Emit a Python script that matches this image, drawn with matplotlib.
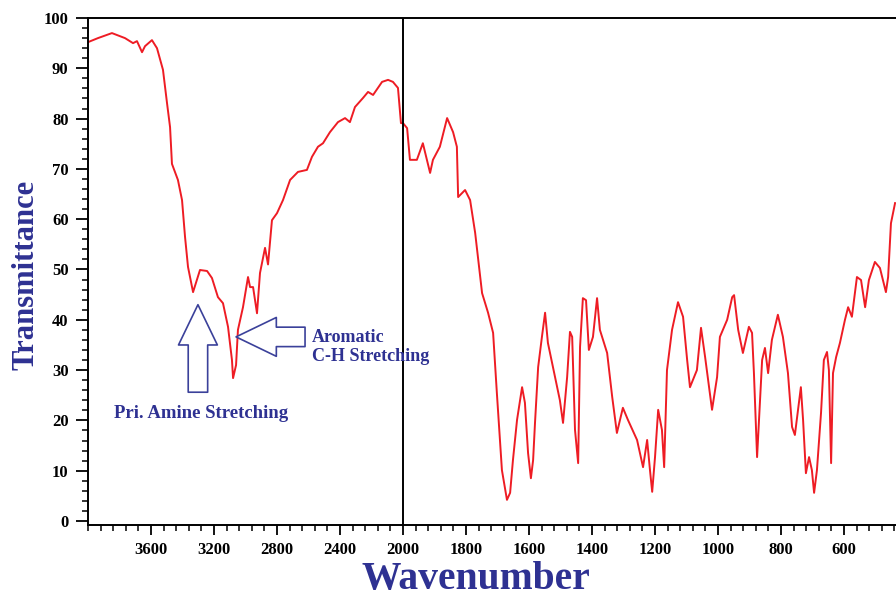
import numpy as np
import matplotlib
matplotlib.use("Agg")
from matplotlib import pyplot as plt
from matplotlib.ticker import FixedLocator

# IR spectrum (wavenumber cm-1, % transmittance)
wavenumber = [4000, 3937, 3848, 3765, 3714, 3689, 3657, 3638, 3594, 3562,
              3524, 3498, 3479, 3467, 3429, 3403, 3384, 3365, 3333, 3289,
              3244, 3213, 3175, 3143, 3111, 3086, 3079, 3060, 3048, 3016,
              2984, 2971, 2952, 2927, 2908, 2876, 2857, 2832, 2800, 2762,
              2717, 2667, 2610, 2578, 2540, 2508, 2464, 2413, 2368, 2337,
              2305, 2254, 2222, 2190, 2133, 2095, 2064, 2032, 2013, 2000,
              1987, 1978, 1956, 1937, 1914, 1905, 1883, 1860, 1841, 1829,
              1825, 1803, 1787, 1771, 1749, 1730, 1714, 1702, 1686, 1670,
              1660, 1651, 1638, 1622, 1613, 1603, 1594, 1587, 1581, 1571,
              1559, 1549, 1540, 1524, 1502, 1492, 1479, 1470, 1463, 1454,
              1444, 1438, 1429, 1419, 1410, 1397, 1384, 1375, 1352, 1336,
              1321, 1302, 1286, 1257, 1238, 1225, 1216, 1209, 1200, 1190,
              1178, 1171, 1162, 1146, 1127, 1111, 1098, 1089, 1067, 1054,
              1041, 1019, 1003, 994, 971, 955, 949, 936, 921, 902,
              892, 886, 876, 860, 851, 841, 829, 810, 794, 778,
              765, 756, 746, 737, 730, 721, 711, 702, 695, 686,
              673, 664, 654, 648, 641, 635, 625, 613, 597, 587,
              575, 559, 546, 533, 521, 502, 486, 467, 460, 451,
              438]
transmittance = [95.2, 96.0, 97.0, 96.0, 95.0, 95.4, 93.2, 94.4, 95.6, 94.0,
                 89.7, 83.0, 78.3, 71.0, 67.8, 63.8, 56.5, 50.5, 45.5, 49.9,
                 49.7, 48.3, 44.5, 43.3, 38.6, 32.0, 28.4, 31.0, 38.0, 42.5,
                 48.5, 46.5, 46.5, 41.3, 49.3, 54.3, 51.0, 59.8, 61.2, 63.8,
                 67.8, 69.4, 69.8, 72.4, 74.4, 75.1, 77.3, 79.3, 80.1, 79.3,
                 82.3, 84.1, 85.3, 84.7, 87.3, 87.7, 87.3, 86.1, 79.1, 79.1,
                 78.1, 71.8, 71.8, 75.1, 69.2, 71.8, 74.4, 80.1, 77.3, 74.4,
                 64.4, 65.8, 63.8, 57.3, 45.3, 41.4, 37.4, 25.4, 10.1, 4.2,
                 5.6, 12.1, 20.1, 26.6, 23.5, 13.5, 8.5, 12.1, 19.5, 30.6,
                 36.6, 41.4, 35.4, 30.6, 24.0, 19.5, 28.6, 37.6, 36.6, 18.1,
                 11.5, 34.6, 44.3, 43.9, 34.0, 36.6, 44.3, 38.0, 33.4, 24.7,
                 17.5, 22.5, 20.1, 16.1, 10.7, 16.1, 10.1, 5.8, 12.7, 22.1,
                 18.1, 10.7, 30.0, 38.0, 43.5, 40.6, 32.0, 26.6, 30.0, 38.4,
                 32.6, 22.1, 28.6, 36.6, 40.0, 44.5, 44.9, 38.0, 33.4, 38.6,
                 37.4, 29.4, 12.7, 32.0, 34.4, 29.4, 36.0, 41.0, 36.6, 29.4,
                 18.7, 17.1, 22.1, 26.6, 20.1, 9.5, 12.7, 10.1, 5.6, 10.1,
                 21.5, 32.0, 33.6, 30.0, 11.5, 29.4, 32.6, 35.4, 40.0, 42.5,
                 40.6, 48.5, 47.9, 42.5, 47.9, 51.5, 50.3, 45.5, 48.5, 59.2,
                 63.2]

x_major = [3600, 3200, 2800, 2400, 2000, 1800, 1600, 1400, 1200, 1000, 800, 600]
y_major = list(range(0, 101, 10))

blue = "#2e3192"
serif = "Liberation Serif"


# above 2000 cm-1 the axis is compressed by 2
def fwd(w):
    w = np.asarray(w, dtype=float)
    return np.where(w >= 2000, 2000 + (w - 2000) / 2.0, w)


def inv(p):
    p = np.asarray(p, dtype=float)
    return np.where(p >= 2000, 2000 + 2.0 * (p - 2000), p)


fig = plt.figure(figsize=(8.96, 5.97), dpi=100)
ax = fig.add_axes([88 / 896, 1 - 525 / 597, 1 - 88 / 896, (525 - 18) / 597])
ax.set_xscale("function", functions=(fwd, inv))

ax.plot(wavenumber, transmittance, color="#ee1c24", lw=1.4)
ax.axvline(2000, color="black", lw=1.4)

ax.set_xlim(4000, 435)
ax.set_ylim(-0.8, 100)

minor_x = list(range(4000, 2000, -80)) + list(range(2000, 430, -40))
ax.xaxis.set_major_locator(FixedLocator(x_major))
ax.xaxis.set_minor_locator(FixedLocator(minor_x))
ax.yaxis.set_major_locator(FixedLocator(y_major))
ax.yaxis.set_minor_locator(FixedLocator(list(range(0, 101, 2))))
ax.set_xticklabels([str(v) for v in x_major])

for s in ["left", "bottom", "top"]:
    ax.spines[s].set_linewidth(1.4)
ax.spines["right"].set_visible(False)

ax.tick_params(axis="both", which="major", width=1.3, colors="black")
ax.tick_params(axis="x", which="major", length=7, pad=5)
ax.tick_params(axis="x", which="minor", length=4, width=1.1)
ax.tick_params(axis="y", which="major", length=9, pad=5)
ax.tick_params(axis="y", which="minor", length=4, width=1.1)
for lab in ax.get_xticklabels() + ax.get_yticklabels():
    lab.set_fontfamily(serif)
    lab.set_fontweight("bold")
    lab.set_fontsize(12)

fig.text(26 / 896, 1 - 275 / 597, "Transmittance", rotation=90,
         ha="center", va="center", color=blue, fontsize=22,
         fontweight="bold", family=serif)
fig.text(476 / 896, 1 - 580 / 597, "Wavenumber", ha="center", va="center",
         color=blue, fontsize=28.5, fontweight="bold", family=serif)

# block arrows and their labels
arrow_kw = dict(arrowstyle="simple,head_length=2.9,head_width=2.8,tail_width=1.4",
                fc="white", ec="#3b419a", lw=1.2, shrinkA=0, shrinkB=0,
                mutation_scale=10)
ax.annotate("", xy=(3302, 43.0), xytext=(3302, 25.6), arrowprops=arrow_kw)
ax.annotate("", xy=(3060, 36.6), xytext=(2622, 36.6), arrowprops=arrow_kw)

ax.text(3285, 21.3, "Pri. Amine Stretching", ha="center", va="center",
        color=blue, fontsize=13.5, fontweight="bold", family=serif)
ax.text(2580, 34.6, "Aromatic\nC-H Stretching", ha="left", va="center",
        color=blue, fontsize=13, fontweight="bold", family=serif,
        linespacing=1.1)

fig.savefig("out.png", dpi=100)
